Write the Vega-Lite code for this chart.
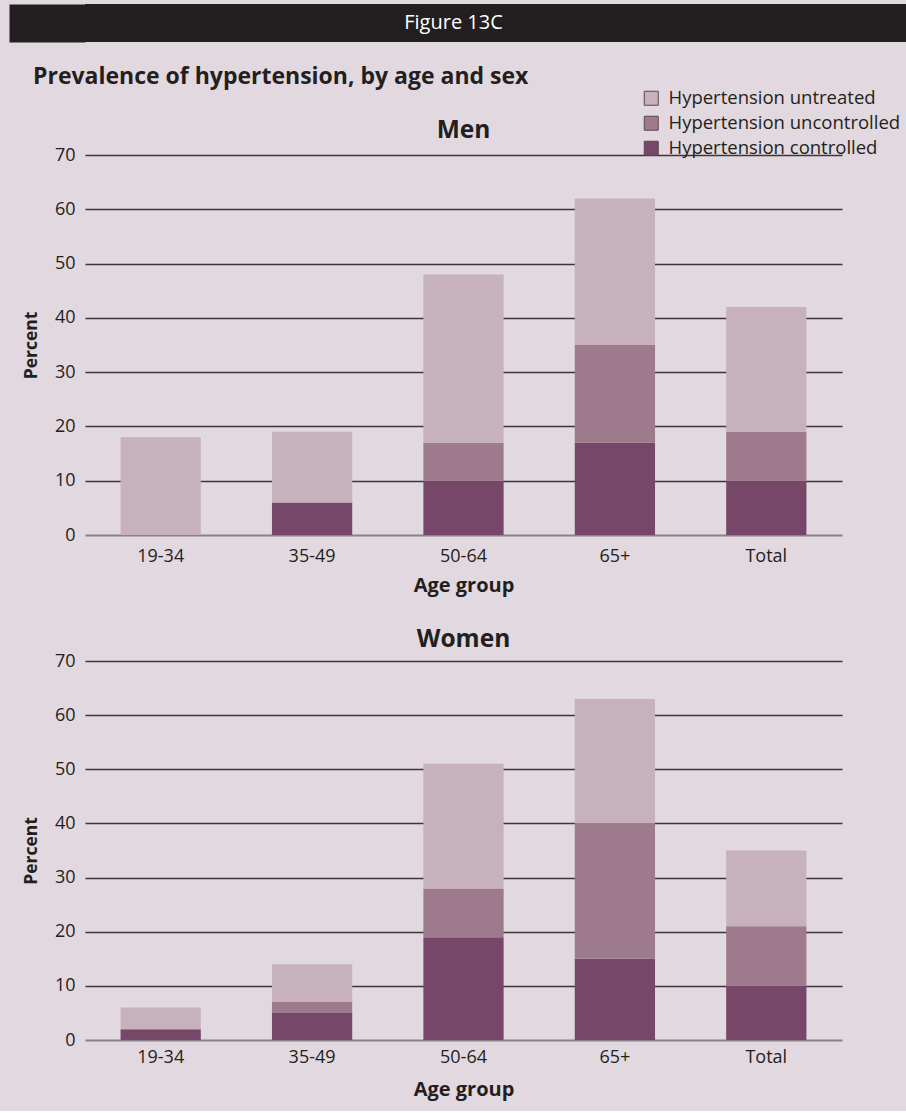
{
  "$schema": "https://vega.github.io/schema/vega-lite/v6.json",
  "background": "#e2d8df",
  "padding": {"left": 9, "top": 4, "right": 0, "bottom": 12},
  "config": {
    "font": "Open Sans",
    "view": {"stroke": null},
    "axis": {
      "labelFont": "Open Sans",
      "labelFontSize": 18,
      "labelColor": "#231f20",
      "titleFont": "Open Sans",
      "titleFontSize": 17.5,
      "titleFontWeight": "bold",
      "titleColor": "#231f20",
      "ticks": false
    },
    "title": {"font": "Open Sans", "color": "#231f20"}
  },
  "datasets": {
    "bars": [
      {"sex": "Men", "age": "19-34", "status": "Hypertension controlled", "value": 0},
      {"sex": "Men", "age": "19-34", "status": "Hypertension uncontrolled", "value": 0},
      {"sex": "Men", "age": "19-34", "status": "Hypertension untreated", "value": 18},
      {"sex": "Men", "age": "35-49", "status": "Hypertension controlled", "value": 6},
      {"sex": "Men", "age": "35-49", "status": "Hypertension uncontrolled", "value": 0},
      {"sex": "Men", "age": "35-49", "status": "Hypertension untreated", "value": 13},
      {"sex": "Men", "age": "50-64", "status": "Hypertension controlled", "value": 10},
      {"sex": "Men", "age": "50-64", "status": "Hypertension uncontrolled", "value": 7},
      {"sex": "Men", "age": "50-64", "status": "Hypertension untreated", "value": 31},
      {"sex": "Men", "age": "65+", "status": "Hypertension controlled", "value": 17},
      {"sex": "Men", "age": "65+", "status": "Hypertension uncontrolled", "value": 18},
      {"sex": "Men", "age": "65+", "status": "Hypertension untreated", "value": 27},
      {"sex": "Men", "age": "Total", "status": "Hypertension controlled", "value": 10},
      {"sex": "Men", "age": "Total", "status": "Hypertension uncontrolled", "value": 9},
      {"sex": "Men", "age": "Total", "status": "Hypertension untreated", "value": 23},
      {"sex": "Women", "age": "19-34", "status": "Hypertension controlled", "value": 2},
      {"sex": "Women", "age": "19-34", "status": "Hypertension uncontrolled", "value": 0},
      {"sex": "Women", "age": "19-34", "status": "Hypertension untreated", "value": 4},
      {"sex": "Women", "age": "35-49", "status": "Hypertension controlled", "value": 5},
      {"sex": "Women", "age": "35-49", "status": "Hypertension uncontrolled", "value": 2},
      {"sex": "Women", "age": "35-49", "status": "Hypertension untreated", "value": 7},
      {"sex": "Women", "age": "50-64", "status": "Hypertension controlled", "value": 19},
      {"sex": "Women", "age": "50-64", "status": "Hypertension uncontrolled", "value": 9},
      {"sex": "Women", "age": "50-64", "status": "Hypertension untreated", "value": 23},
      {"sex": "Women", "age": "65+", "status": "Hypertension controlled", "value": 15},
      {"sex": "Women", "age": "65+", "status": "Hypertension uncontrolled", "value": 25},
      {"sex": "Women", "age": "65+", "status": "Hypertension untreated", "value": 23},
      {"sex": "Women", "age": "Total", "status": "Hypertension controlled", "value": 10},
      {"sex": "Women", "age": "Total", "status": "Hypertension uncontrolled", "value": 11},
      {"sex": "Women", "age": "Total", "status": "Hypertension untreated", "value": 14}
    ],
    "header": [{"label": "Figure 13C"}]
  },
  "spacing": 0,
  "vconcat": [
    {
      "data": {"name": "header"},
      "width": 821,
      "height": 38,
      "view": {"fill": "#231f20", "stroke": null},
      "title": {
        "text": "Prevalence of hypertension, by age and sex",
        "orient": "bottom",
        "anchor": "start",
        "frame": "group",
        "dx": -52,
        "offset": 24,
        "fontSize": 23,
        "fontWeight": "bold"
      },
      "mark": {"type": "text", "color": "#ffffff", "fontSize": 20, "font": "Open Sans", "baseline": "middle", "align": "center", "dx": -42},
      "encoding": {
        "text": {"field": "label", "type": "nominal"},
        "y": {
          "field": "label", "type": "nominal",
          "axis": {"title": null, "labels": false, "ticks": false, "grid": false, "domain": true, "domainColor": "#231f20", "domainWidth": 76, "offset": 38}
        }
      }
    },
    {
      "spacing": 31,
      "resolve": {"scale": {"color": "independent"}, "legend": {"color": "independent"}},
      "vconcat": [
        {
          "data": {"name": "bars"},
          "transform": [{"filter": "datum.sex === 'Men'"}],
          "width": 757,
          "height": 380,
          "title": {"text": "Men", "fontSize": 24.5, "fontWeight": "bold", "offset": -54},
          "mark": {"type": "bar"},
          "encoding": {
            "x": {
              "field": "age", "type": "nominal",
              "sort": ["19-34", "35-49", "50-64", "65+", "Total"],
              "scale": {"paddingInner": 0.47, "paddingOuter": 0.235},
              "axis": {"labelAngle": 0, "title": "Age group", "titleFontSize": 20, "domain": true, "domainColor": "#8a8288", "domainWidth": 2, "labelPadding": 12, "titlePadding": 10, "grid": false}
            },
            "y": {
              "field": "value", "type": "quantitative", "stack": "zero",
              "scale": {"domain": [0, 70], "nice": false},
              "axis": {
                "values": [0, 10, 20, 30, 40, 50, 60, 70],
                "title": ["", "Percent"], "titleLineHeight": 13, "domain": false, "grid": true,
                "gridColor": {"condition": {"test": "datum.value === 0", "value": "transparent"}, "value": "#3d3539"},
                "gridWidth": 1.4, "labelPadding": 10, "titlePadding": 14
              }
            },
            "color": {
              "field": "status", "type": "nominal",
              "scale": {
                "domain": ["Hypertension untreated", "Hypertension uncontrolled", "Hypertension controlled"],
                "range": ["#c6b1bd", "#9e7a8d", "#77476a"]
              },
              "legend": {
                "orient": "none", "legendX": 557, "legendY": -66,
                "title": null, "symbolType": "square", "symbolSize": 196,
                "labelFontSize": 18.5, "labelColor": "#231f20", "labelFont": "Open Sans",
                "labelLimit": 0,
                "labelOffset": 8, "rowPadding": 6, "padding": 0,
                "symbolStrokeColor": "#5a4a52", "symbolStrokeWidth": 1,
                "encode": {"symbols": {"update": {"stroke": {"value": "#5a4a52"}, "strokeWidth": {"value": 1}}}}
              }
            },
            "order": {"field": "status", "sort": "ascending"}
          }
        },
        {
          "data": {"name": "bars"},
          "transform": [{"filter": "datum.sex === 'Women'"}],
          "width": 757,
          "height": 379,
          "title": {"text": "Women", "fontSize": 24.5, "fontWeight": "bold", "offset": 0},
          "mark": {"type": "bar"},
          "encoding": {
            "x": {
              "field": "age", "type": "nominal",
              "sort": ["19-34", "35-49", "50-64", "65+", "Total"],
              "scale": {"paddingInner": 0.47, "paddingOuter": 0.235},
              "axis": {"labelAngle": 0, "title": "Age group", "titleFontSize": 20, "domain": true, "domainColor": "#8a8288", "domainWidth": 2, "labelPadding": 8, "titlePadding": 13, "grid": false}
            },
            "y": {
              "field": "value", "type": "quantitative", "stack": "zero",
              "scale": {"domain": [0, 70], "nice": false},
              "axis": {
                "values": [0, 10, 20, 30, 40, 50, 60, 70],
                "title": ["", "Percent"], "titleLineHeight": 13, "domain": false, "grid": true,
                "gridColor": {"condition": {"test": "datum.value === 0", "value": "transparent"}, "value": "#3d3539"},
                "gridWidth": 1.4, "labelPadding": 10, "titlePadding": 14
              }
            },
            "color": {
              "field": "status", "type": "nominal",
              "scale": {
                "domain": ["Hypertension untreated", "Hypertension uncontrolled", "Hypertension controlled"],
                "range": ["#c6b1bd", "#9e7a8d", "#77476a"]
              },
              "legend": null
            },
            "order": {"field": "status", "sort": "ascending"}
          }
        }
      ]
    }
  ]
}
